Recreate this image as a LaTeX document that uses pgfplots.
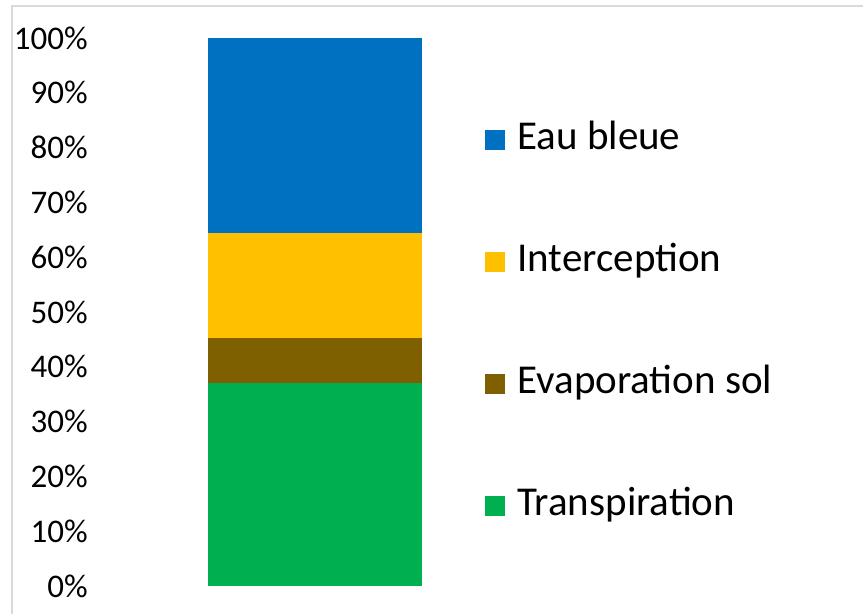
\documentclass[border=0pt]{standalone}
\usepackage{pgfplots}
\pgfplotsset{compat=1.18}
\usepackage{fontspec}
\setmainfont{Carlito}
\definecolor{cblue}{HTML}{0070C0}
\definecolor{cyellow}{HTML}{FFC000}
\definecolor{cbrown}{HTML}{7F6000}
\definecolor{cgreen}{HTML}{00B050}
\definecolor{frame}{HTML}{D9D9D9}
\begin{document}
\begin{tikzpicture}
\useasboundingbox (0,0) rectangle (431.5pt,307pt);
\draw[frame, line width=1pt] (6pt,0pt) -- (6pt,304pt) -- (431.5pt,304pt);
\begin{axis}[
  at={(47.5pt,14pt)}, anchor=south west,
  scale only axis, width=220pt, height=274pt,
  xmin=0, xmax=1, ymin=0, ymax=100,
  axis line style={draw=none},
  major tick length=0pt,
  xtick=\empty,
  ytick={0,10,...,100},
  yticklabel={\pgfmathprintnumber{\tick}\%},
  /pgf/number format/assume math mode=true,
  y tick label style={font=\fontsize{16.5}{18}\selectfont, inner sep=0pt, xshift=-3.5pt},
  ybar stacked, bar width=107pt,
  reverse legend,
  legend cell align=left,
  legend image code/.code={\fill[#1] (0pt,-5pt) rectangle (10pt,5pt);},
  legend style={at={(195pt,231.5pt)}, anchor=north west, draw=none, fill=none,
    font=\fontsize{20.5}{23}\selectfont, row sep=44pt,
    nodes={inner sep=0pt, text height=13pt, text depth=4pt},
    column sep=6pt, inner sep=0pt},
]
\addplot[fill=cgreen, draw=none] coordinates {(0.5,37.0)};
\addlegendentry{Transpiration}
\addplot[fill=cbrown, draw=none] coordinates {(0.5,8.2)};
\addlegendentry{Evaporation sol}
\addplot[fill=cyellow, draw=none] coordinates {(0.5,19.2)};
\addlegendentry{Interception}
\addplot[fill=cblue, draw=none] coordinates {(0.5,35.6)};
\addlegendentry{Eau bleue}
\end{axis}
\end{tikzpicture}
\end{document}
